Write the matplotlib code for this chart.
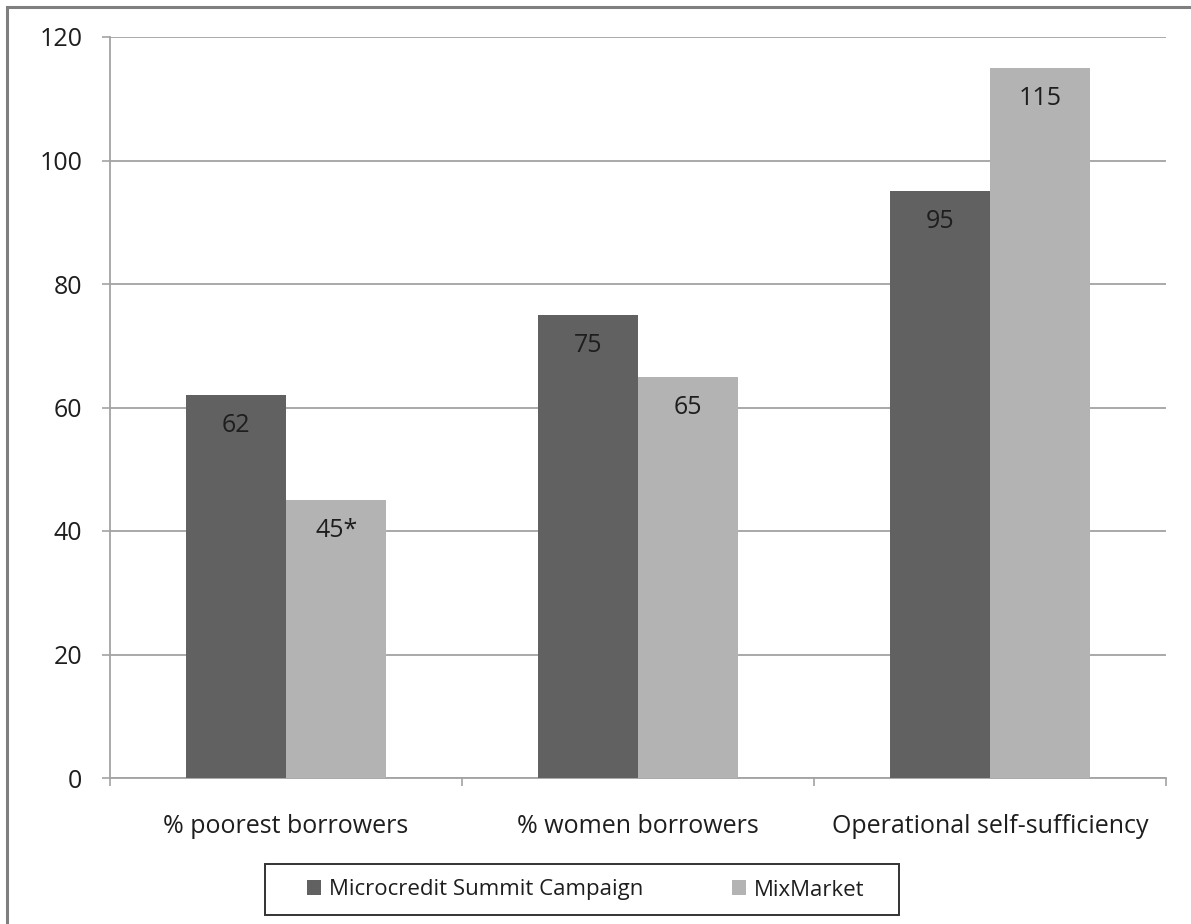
import numpy as np
import matplotlib
matplotlib.use("Agg")
import matplotlib.pyplot as plt
from matplotlib.patches import Rectangle

plt.rcParams['font.family'] = ['Open Sans', 'DejaVu Sans']

categories = ["% poorest borrowers", "% women borrowers", "Operational self-sufficiency"]
series_names = ["Microcredit Summit Campaign", "MixMarket"]
summit_values = [62, 75, 95]
mixmarket_values = [45, 65, 115]
summit_labels = ["62", "75", "95"]
mixmarket_labels = ["45*", "65", "115"]
yticks = [0, 20, 40, 60, 80, 100, 120]

dark = "#616161"
light = "#b3b3b3"
grid_c = "#a3a3a3"
text_c = "#1e1e1e"

W, H = 1191, 924
fig = plt.figure(figsize=(W/100, H/100), dpi=100)
ax = fig.add_axes([110/W, 1-778/H, (1166-110)/W, (778-37)/H])

x = np.arange(len(categories))
w = 0.285
b1 = ax.bar(x - w/2, summit_values, w, color=dark, label=series_names[0], zorder=3)
b2 = ax.bar(x + w/2, mixmarket_values, w, color=light, label=series_names[1], zorder=3)

for bars, labels in ((b1, summit_labels), (b2, mixmarket_labels)):
    for rect, lab in zip(bars, labels):
        ax.annotate(lab, (rect.get_x() + rect.get_width()/2, rect.get_height()),
                    xytext=(0, -13), textcoords="offset points",
                    ha="center", va="top", fontsize=18, color=text_c, zorder=4)

ax.set_xlim(-0.5, 2.5)
ax.set_ylim(0, 120)
ax.set_yticks(yticks)
ax.set_yticklabels([str(t) for t in yticks], fontsize=18, color=text_c)
ax.yaxis.grid(True, color=grid_c, linewidth=1.3, zorder=0)
ax.tick_params(axis="y", length=6, width=1.2, color=grid_c, pad=14)

ax.set_xticks(x)
ax.set_xticklabels(categories, fontsize=18, color=text_c)
ax.set_xticks([-0.5, 0.5, 1.5, 2.5], minor=True)
ax.tick_params(axis="x", which="major", length=0, pad=26)
ax.tick_params(axis="x", which="minor", length=6, width=1.2, color=grid_c)

for s in ("top", "right"):
    ax.spines[s].set_visible(False)
for s in ("left", "bottom"):
    ax.spines[s].set_color(grid_c)
    ax.spines[s].set_linewidth(1.3)

# legend entries, with a separately drawn box around them
leg = fig.legend(handles=[b1, b2], loc="center left",
                 bbox_to_anchor=(307/W, 1-890/H), ncol=2, fontsize=16,
                 frameon=False, handlelength=0.63, handleheight=0.63,
                 handletextpad=0.36, columnspacing=4.0, borderpad=0,
                 borderaxespad=0, labelcolor=text_c)
fig.patches.append(Rectangle((265/W, 1-915/H), (899-265)/W, 51/H,
                             transform=fig.transFigure, fill=False,
                             edgecolor="#333333", linewidth=1.4, zorder=1))

# outer chart frame
fig.patches.append(Rectangle((7/W, -0.05), 1.2, 1 - 7/H + 0.05,
                             transform=fig.transFigure, fill=False,
                             edgecolor="#7f7f7f", linewidth=2.2, zorder=0))

fig.savefig("out.png", dpi=100)
